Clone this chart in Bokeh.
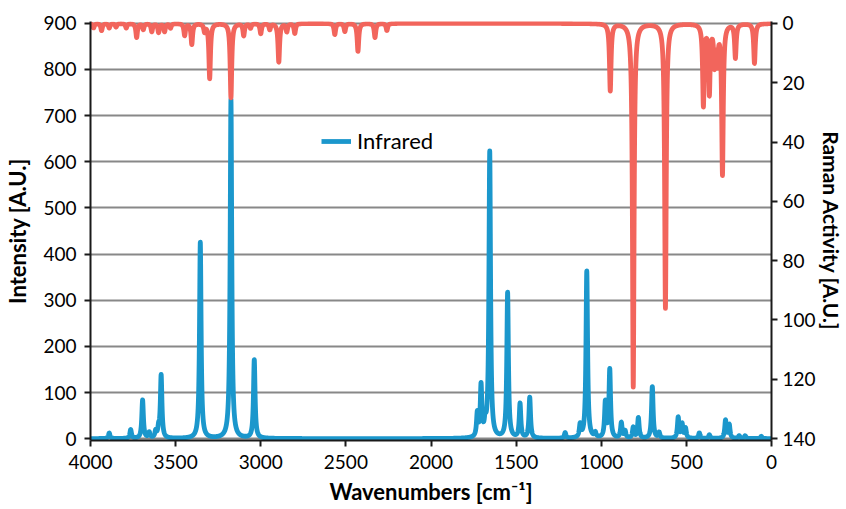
import numpy as np
from bokeh.plotting import figure
from bokeh.models import Range1d, LinearAxis, FixedTicker, Legend, LegendItem
from bokeh.embed import file_html
from bokeh.resources import INLINE

# ---- data (peak positions in cm-1 and heights) ----
ir_pos = [3890, 3764, 3694, 3655, 3617, 3600, 3585, 3355, 3175, 3038,
          1728, 1706, 1682, 1655, 1550, 1477, 1420, 1212, 1124, 1085,
          1035, 976, 950, 882, 860, 812, 782, 700, 660, 548, 525, 505,
          424, 365, 270, 248, 190, 155, 60]
ir_int = [12, 19, 83, 12, 14, 18, 136, 425, 735, 170,
          50, 110, 28, 620, 315, 74, 88, 12, 27, 362,
          10, 76, 148, 33, 15, 23, 44, 112, 12, 45, 30, 21,
          12, 8, 39, 29, 6, 6, 5]

raman_pos = [3982, 3935, 3890, 3850, 3790, 3729, 3690, 3640, 3600, 3565,
             3530, 3447, 3405, 3330, 3300, 3175, 3100, 3060, 3000, 2947,
             2894, 2847, 2800, 2565, 2506, 2429, 2329, 2259,
             947, 812, 623, 400, 365, 335, 318, 288, 212, 100]
raman_act = [1.5, 2.4, 1.5, 1.2, 1.5, 4.7, 2.0, 2.7, 3.0, 2.7,
             1.5, 4.0, 7.0, 2.5, 18.5, 25.0, 4.0, 1.5, 3.4, 2.0,
             13.0, 2.7, 3.3, 3.7, 2.7, 9.4, 4.7, 2.4,
             22.6, 122.5, 95.9, 27.3, 23.0, 12.8, 11.7, 50.5, 11.4, 13.4]

x_ticks = [0, 500, 1000, 1500, 2000, 2500, 3000, 3500, 4000]
left_ticks = [0, 100, 200, 300, 400, 500, 600, 700, 800, 900]
right_ticks = [0, 20, 40, 60, 80, 100, 120, 140]

HWHM = 5.5  # band half width used to draw the computed lines
wn = np.arange(0.0, 4000.5, 0.5)


def spectrum(pos, hgt):
    s = np.zeros_like(wn)
    for c, h in zip(pos, hgt):
        s += h * HWHM ** 2 / ((wn - c) ** 2 + HWHM ** 2)
    return s


ir_curve = spectrum(ir_pos, ir_int)
raman_curve = spectrum(raman_pos, raman_act)

BLUE = "#1b97cc"
RED = "#f2655c"
FONT = "Lato"

pad_l = 4.0
pad_r = pad_l * 140.0 / 900.0

p = figure(width=846, height=509, output_backend="svg", toolbar_location=None,
           x_range=Range1d(4000, 0), y_range=Range1d(-pad_l, 900 + pad_l),
           min_border_left=90, min_border_right=75, min_border_top=21,
           min_border_bottom=69)
p.outline_line_color = None
p.extra_y_ranges = {"raman": Range1d(140 + pad_r, -pad_r)}

p.xgrid.grid_line_color = None
p.ygrid.grid_line_color = "#888888"
p.ygrid.grid_line_width = 2
p.ygrid.ticker = FixedTicker(ticks=left_ticks)

ax_x = p.xaxis[0]
ax_x.ticker = FixedTicker(ticks=x_ticks)
ax_y = p.yaxis[0]
ax_y.ticker = FixedTicker(ticks=left_ticks)

right = LinearAxis(y_range_name="raman", ticker=FixedTicker(ticks=right_ticks))
p.add_layout(right, "right")

for ax in (ax_x, ax_y, right):
    ax.axis_line_color = "#1a1a1a"
    ax.axis_line_width = 2
    ax.major_tick_line_color = "#1a1a1a"
    ax.major_tick_line_width = 2
    ax.major_tick_in = 0
    ax.major_tick_out = 6
    ax.minor_tick_line_color = None
    ax.major_label_text_font = FONT
    ax.major_label_text_font_size = "19px"
    ax.major_label_text_color = "#000000"
    ax.axis_label_text_font = FONT
    ax.axis_label_text_font_size = "22px"
    ax.axis_label_text_font_style = "bold"
    ax.axis_label_text_color = "#000000"

ax_x.axis_label = "Wavenumbers [cm\u207b\u00b9]"
ax_y.axis_label = "Intensity [A.U.]"
right.axis_label = "Raman Activity [A.U.]"
ax_x.major_label_standoff = 8
ax_x.axis_label_standoff = 6
ax_y.major_label_standoff = 8
ax_y.axis_label_standoff = 9
right.major_label_standoff = 5
right.axis_label_standoff = 0
right.axis_label_text_font_size = "21px"

ir_r = p.line(wn, ir_curve, line_color=BLUE, line_width=4.8, line_join="round")
p.line(wn, raman_curve, line_color=RED, line_width=4.8, line_join="round",
       y_range_name="raman")

legend = Legend(items=[LegendItem(label="Infrared", renderers=[ir_r])],
                location=(231, 286), padding=0, margin=0, spacing=0,
                glyph_width=30, glyph_height=20, label_standoff=6,
                label_text_font=FONT, label_text_font_size="22px",
                label_text_color="#000000",
                border_line_alpha=0, background_fill_alpha=0)
p.add_layout(legend, "center")

open("out.html", "w").write(file_html(p, INLINE))
